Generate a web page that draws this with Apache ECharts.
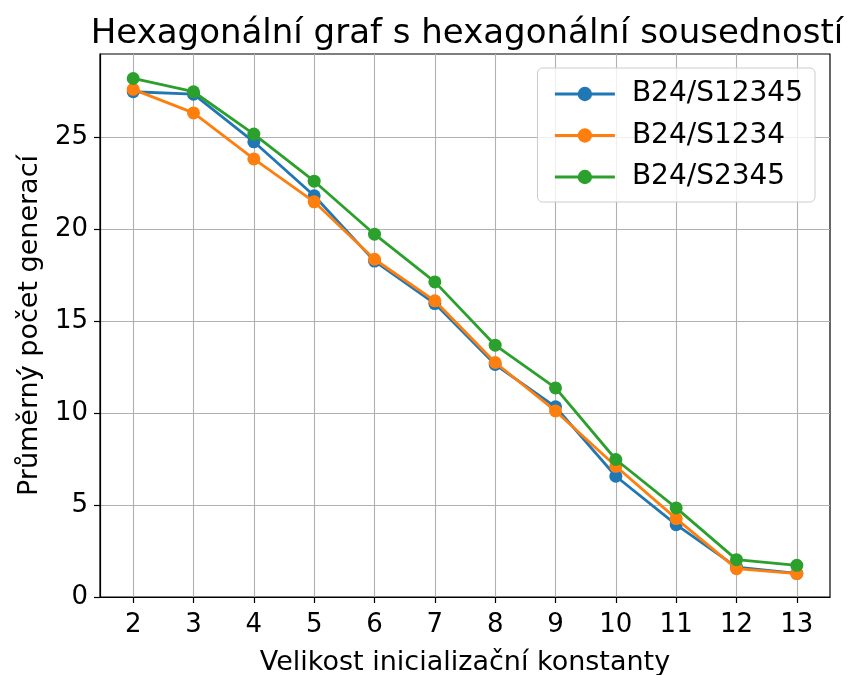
<!DOCTYPE html>
<html>
<head>
<meta charset="utf-8">
<script src="https://cdn.jsdelivr.net/npm/echarts@6/dist/echarts.min.js"></script>
<style>html,body{margin:0;padding:0;background:#fff}#c{width:848px;height:675px}</style>
</head>
<body>
<div id="c"></div>
<script>
const xValues = [2, 3, 4, 5, 6, 7, 8, 9, 10, 11, 12, 13];
const xTicks = [2, 3, 4, 5, 6, 7, 8, 9, 10, 11, 12, 13];
const seriesNames = ['B24/S12345', 'B24/S1234', 'B24/S2345'];
const s12345 = [27.45, 27.32, 24.73, 21.8, 18.25, 15.94, 12.63, 10.33, 6.56, 3.93, 1.62, 1.28];
const s1234 = [27.58, 26.3, 23.8, 21.47, 18.35, 16.09, 12.74, 10.11, 7.1, 4.26, 1.54, 1.27];
const s2345 = [28.17, 27.45, 25.15, 22.59, 19.71, 17.12, 13.68, 11.36, 7.47, 4.84, 2.03, 1.72];
const yTicks = [0, 5, 10, 15, 20, 25];
const colors = ['#1f77b4', '#ff7f0e', '#2ca02c'];

const FONT = 'DejaVu Sans';
const allData = [s12345, s1234, s2345];
const chart = echarts.init(document.getElementById('c'), null, {renderer: 'canvas'});
chart.setOption({
  animation: false,
  backgroundColor: '#ffffff',
  textStyle: {fontFamily: FONT},
  title: {
    text: 'Hexagonální graf s hexagonální sousedností',
    left: 462,
    textAlign: 'center',
    top: 12,
    textStyle: {fontFamily: FONT, fontSize: 34, fontWeight: 'normal', color: '#000'}
  },
  grid: {show: true, left: 100, right: 18, top: 54, bottom: 78, containLabel: false,
         outerBoundsMode: 'none',
         borderColor: '#000', borderWidth: 1.2, backgroundColor: 'transparent'},
  legend: {
    orient: 'vertical',
    right: 33,
    top: 68,
    itemWidth: 60,
    itemHeight: 18,
    itemGap: 13.5,
    padding: [12, 12, 11, 16],
    backgroundColor: 'rgba(255,255,255,0.8)',
    borderColor: '#cccccc',
    borderWidth: 1,
    borderRadius: 5,
    lineStyle: {width: 2.8},
    textStyle: {fontFamily: FONT, fontSize: 28, color: '#000', padding: [0, 0, 0, 12]},
    data: seriesNames
  },
  xAxis: {
    type: 'value',
    min: 1.45,
    max: 13.55,
    name: 'Velikost inicializační konstanty',
    nameLocation: 'middle',
    nameGap: 52,
    nameTextStyle: {fontFamily: FONT, fontSize: 27, color: '#000'},
    axisLine: {onZero: false, lineStyle: {color: '#000', width: 1.2}},
    axisTick: {show: true, length: 6, customValues: xTicks, lineStyle: {color: '#000', width: 1.2}},
    axisLabel: {customValues: xTicks, fontFamily: FONT, fontSize: 26, color: '#000', margin: 15},
    splitLine: {show: true, lineStyle: {color: '#b0b0b0', width: 1.1}}
  },
  yAxis: {
    type: 'value',
    min: 0,
    max: 29.5,
    name: 'Průměrný počet generací',
    nameLocation: 'middle',
    nameGap: 57,
    nameTextStyle: {fontFamily: FONT, fontSize: 27, color: '#000'},
    axisLine: {show: true, onZero: false, lineStyle: {color: '#000', width: 1.2}},
    axisTick: {show: true, length: 6, customValues: yTicks, lineStyle: {color: '#000', width: 1.2}},
    axisLabel: {customValues: yTicks, fontFamily: FONT, fontSize: 26, color: '#000', margin: 12},
    splitLine: {show: true, lineStyle: {color: '#b0b0b0', width: 1.1}}
  },
  series: seriesNames.map((n, i) => ({
    name: n,
    type: 'line',
    data: xValues.map((x, j) => [x, allData[i][j]]),
    symbol: 'circle',
    symbolSize: 13,
    showAllSymbol: true,
    lineStyle: {color: colors[i], width: 2.8},
    itemStyle: {color: colors[i]},
    z: 2 + i
  }))
});
</script>
</body>
</html>
